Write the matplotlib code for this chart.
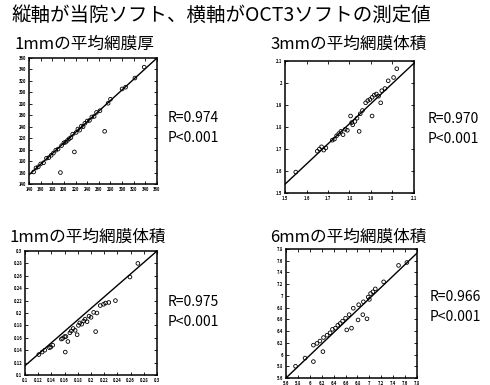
import matplotlib
matplotlib.use('Agg')
import matplotlib.pyplot as plt

plt.rcParams['font.family'] = ['Noto Sans CJK JP', 'DejaVu Sans']

W, H = 490, 385

main_title = '縦軸が当院ソフト、横軸がOCT3ソフトの測定値'
titles = ['1mmの平均網膜厚', '3mmの平均網膜体積', '1mmの平均網膜体積', '6mmの平均網膜体積']
r_texts = ['R=0.974', 'R=0.970', 'R=0.975', 'R=0.966']
p_text = 'P<0.001'

# 1mm thickness
x1 = [148, 152, 156, 160, 165, 170, 174, 178, 182, 186, 190, 194, 196, 200, 203, 206, 209, 212,
      215, 218, 221, 224, 227, 230, 233, 236, 240, 244, 248, 252, 256, 262, 270, 276, 280, 300,
      306, 322, 338]
y1 = [161, 168, 170, 175, 177, 185, 186, 190, 194, 199, 201, 160, 207, 212, 213, 216, 219, 221,
      227, 196, 230, 236, 234, 241, 240, 246, 250, 251, 257, 258, 265, 268, 232, 281, 288, 306,
      309, 325, 344]
line1 = ([140, 360], [156, 360])
ticks1 = [140, 160, 180, 200, 220, 240, 260, 280, 300, 320, 340, 360]
lim1 = (140, 360)

# 3mm volume
x2 = [1.55, 1.65, 1.66, 1.67, 1.68, 1.69, 1.72, 1.73, 1.74, 1.75, 1.76, 1.77, 1.78, 1.79, 1.81,
      1.815, 1.825, 1.805, 1.835, 1.845, 1.85, 1.86, 1.875, 1.885, 1.895, 1.905, 1.915, 1.925,
      1.935, 1.905, 1.945, 1.95, 1.965, 1.98, 2.005, 2.02]
y2 = [1.595, 1.69, 1.70, 1.71, 1.695, 1.705, 1.74, 1.745, 1.76, 1.77, 1.78, 1.765, 1.79, 1.785,
      1.82, 1.81, 1.825, 1.85, 1.84, 1.78, 1.86, 1.875, 1.91, 1.92, 1.925, 1.935, 1.945, 1.95,
      1.94, 1.85, 1.91, 1.965, 1.975, 2.01, 2.025, 2.065]
line2 = ([1.5, 2.1], [1.54, 2.09])
ticks2 = [1.5, 1.6, 1.7, 1.8, 1.9, 2.0, 2.1]
lim2 = (1.5, 2.1)

# 1mm volume
x3 = [0.121, 0.126, 0.130, 0.137, 0.139, 0.142, 0.155, 0.157, 0.160, 0.162, 0.161, 0.165, 0.168,
      0.170, 0.173, 0.176, 0.179, 0.181, 0.183, 0.186, 0.189, 0.191, 0.194, 0.197, 0.200, 0.207,
      0.204, 0.209, 0.214, 0.219, 0.222, 0.227, 0.237, 0.259, 0.271]
y3 = [0.133, 0.137, 0.140, 0.144, 0.145, 0.148, 0.158, 0.159, 0.162, 0.162, 0.137, 0.154, 0.168,
      0.171, 0.175, 0.172, 0.165, 0.180, 0.184, 0.182, 0.187, 0.190, 0.186, 0.195, 0.193, 0.170,
      0.201, 0.200, 0.212, 0.214, 0.216, 0.217, 0.220, 0.258, 0.280]
line3 = ([0.1, 0.3], [0.115, 0.3])
ticks3 = [0.10, 0.12, 0.14, 0.16, 0.18, 0.20, 0.22, 0.24, 0.26, 0.28, 0.30]
lim3 = (0.1, 0.3)

# 6mm volume
x4 = [5.76, 5.92, 6.06, 6.22, 6.06, 6.12, 6.17, 6.23, 6.29, 6.34, 6.38, 6.43, 6.47, 6.51, 6.55,
      6.62, 6.70, 6.60, 6.66, 6.81, 6.89, 6.96, 6.82, 6.90, 6.98, 7.02, 7.06, 7.10, 7.24, 7.49,
      7.63, 6.73, 7.00]
y4 = [5.80, 5.94, 5.88, 6.05, 6.16, 6.19, 6.23, 6.29, 6.33, 6.37, 6.43, 6.45, 6.50, 6.53, 6.57,
      6.42, 6.45, 6.62, 6.68, 6.59, 6.68, 6.61, 6.85, 6.90, 6.98, 7.04, 7.07, 7.12, 7.24, 7.52,
      7.57, 6.79, 6.94]
line4 = ([5.6, 7.8], [5.6, 7.73])
ticks4 = [5.6, 5.8, 6.0, 6.2, 6.4, 6.6, 6.8, 7.0, 7.2, 7.4, 7.6, 7.8]
lim4 = (5.6, 7.8)

panels = [(x1, y1, line1, ticks1, lim1), (x2, y2, line2, ticks2, lim2),
          (x3, y3, line3, ticks3, lim3), (x4, y4, line4, ticks4, lim4)]

# pixel boxes: left, top, right, bottom
boxes = [(29, 58, 157, 184), (285, 61, 414, 193), (25, 251, 157, 375), (286, 249, 417, 378)]
title_pos = [(14, 44), (270, 44), (9, 237), (270, 237)]
r_pos = [(168, 118), (428, 119), (168, 302), (430, 297)]

fig = plt.figure(figsize=(W / 100, H / 100), dpi=100)
fig.text(12 / W, 1 - 15 / H, main_title, fontsize=14, va='center', ha='left')

for i, (xs, ys, ln, ticks, lim) in enumerate(panels):
    l, t, r, b = boxes[i]
    ax = fig.add_axes([l / W, 1 - b / H, (r - l) / W, (b - t) / H])
    ax.plot(ln[0], ln[1], color='black', lw=1.0)
    ax.scatter(xs, ys, s=7, facecolors='none', edgecolors='black', linewidths=0.6, zorder=3)
    ax.set_xlim(lim)
    ax.set_ylim(lim)
    ax.set_xticks(ticks)
    ax.set_yticks(ticks)
    ax.set_xticklabels([f'{v:g}' for v in ticks])
    ax.set_yticklabels([f'{v:g}' for v in ticks])
    ax.tick_params(labelsize=3, length=2, width=0.6, direction='in', pad=2,
                   top=True, right=True)
    for lab in ax.get_xticklabels() + ax.get_yticklabels():
        lab.set_fontweight('bold')
    for sp in ax.spines.values():
        sp.set_linewidth(1.1)
    tx, ty = title_pos[i]
    fig.text(tx / W, 1 - ty / H, titles[i], fontsize=12, va='center', ha='left')
    rx, ry = r_pos[i]
    fig.text(rx / W, 1 - ry / H, r_texts[i], fontsize=10, va='center', ha='left')
    fig.text(rx / W, 1 - (ry + 20) / H, p_text, fontsize=10, va='center', ha='left')

fig.savefig('out.png', dpi=100)
